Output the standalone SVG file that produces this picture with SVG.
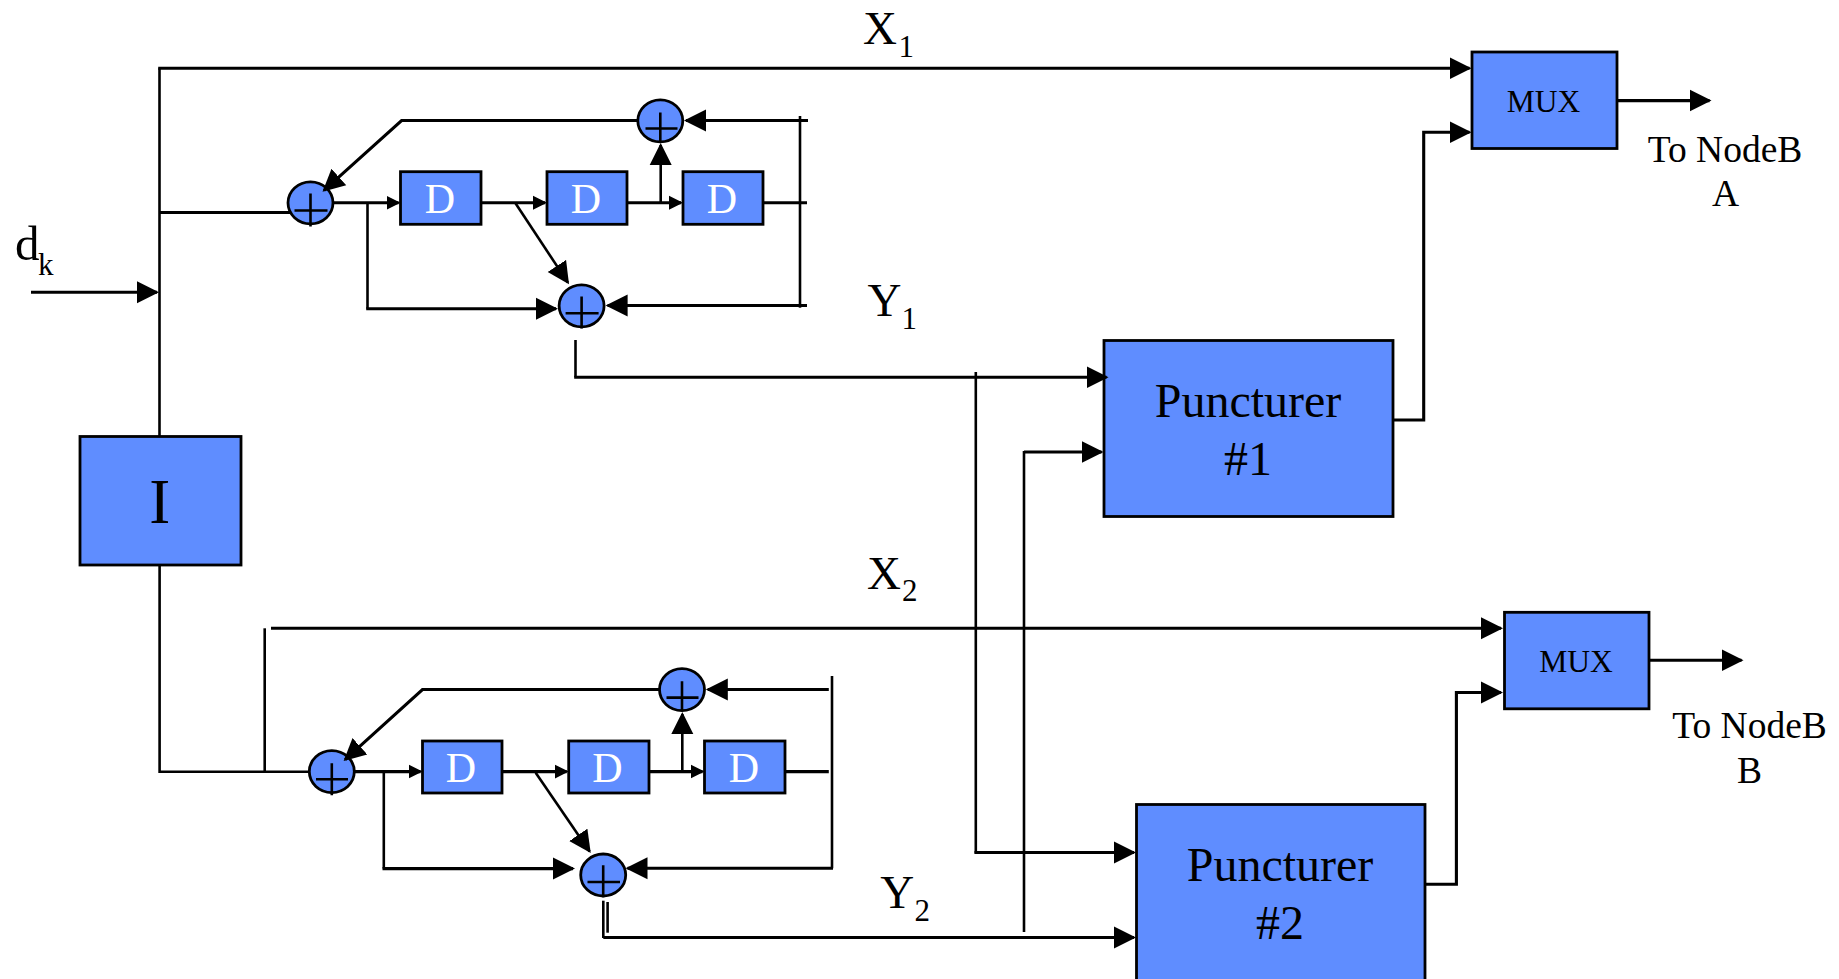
<svg xmlns="http://www.w3.org/2000/svg" width="1839" height="979" viewBox="0 0 1839 979">
<style>
text{font-family:"Liberation Serif","Times New Roman",serif;fill:#000}
.box{fill:#5f8dff;stroke:#000;stroke-width:2.8}
.sum{fill:#5f8dff;stroke:#000;stroke-width:2.8}
.plus{fill:none;stroke:#000;stroke-width:2.6}
.d{font-size:42px;fill:#fff;text-anchor:middle}
.mux{font-size:31.5px;text-anchor:middle}
.p{font-size:48px;text-anchor:middle}
.lbl{font-size:47px}
.sub{font-size:31px}
.to{font-size:37.5px;text-anchor:middle}
#connectors path{fill:none;stroke:#000;stroke-width:3.1;stroke-linejoin:miter}
#connectors path.thin{stroke-width:2.6}
</style>
<defs>
<marker id="big" markerUnits="userSpaceOnUse" markerWidth="24" markerHeight="24" viewBox="0 0 24 24" refX="20" refY="12" orient="auto"><polygon points="0,1 22,12 0,23" fill="#000"/></marker>
<marker id="small" markerUnits="userSpaceOnUse" markerWidth="16" markerHeight="16" viewBox="0 0 16 16" refX="12" refY="8" orient="auto"><polygon points="0,1 14,8 0,15" fill="#000"/></marker>
</defs>
<rect width="1839" height="979" fill="#fff"/>

<g id="node-I"><rect class="box" x="80" y="436.5" width="161" height="128.5"/><text x="159.7" y="522.7" font-size="63" text-anchor="middle">I</text></g>

<g id="sum-1a"><ellipse class="sum" cx="310.5" cy="202.8" rx="22.5" ry="21"/><path class="plus" d="M310.5 193.5V226.5M294.5 210.5H327.5"/></g>
<g id="d-1a"><rect class="box" x="400.5" y="171.7" width="80.5" height="52.6"/><text class="d" x="440" y="213.2">D</text></g>
<g id="d-1b"><rect class="box" x="547" y="171.7" width="80" height="52.6"/><text class="d" x="586" y="213.2">D</text></g>
<g id="d-1c"><rect class="box" x="683" y="171.7" width="80" height="52.6"/><text class="d" x="722" y="213.2">D</text></g>
<g id="sum-1b"><ellipse class="sum" cx="660.3" cy="120.8" rx="22.5" ry="21"/><path class="plus" d="M660.3 112.5V141.5M645.5 128.5H677.5"/></g>
<g id="sum-1c"><ellipse class="sum" cx="581.6" cy="305.8" rx="22.5" ry="21"/><path class="plus" d="M581.6 296.5V328.5M565.6 313.2H598.6"/></g>

<g id="sum-2a"><ellipse class="sum" cx="331.8" cy="771.6" rx="22.5" ry="21"/><path class="plus" d="M331.8 763.3V795.3M316 779.3H348"/></g>
<g id="d-2a"><rect class="box" x="422.5" y="741" width="79.5" height="52"/><text class="d" x="461" y="782">D</text></g>
<g id="d-2b"><rect class="box" x="568.7" y="741" width="80.3" height="52"/><text class="d" x="607.5" y="782">D</text></g>
<g id="d-2c"><rect class="box" x="704.5" y="741" width="80.5" height="52"/><text class="d" x="744" y="782">D</text></g>
<g id="sum-2b"><ellipse class="sum" cx="682" cy="689.6" rx="22.5" ry="21"/><path class="plus" d="M682 681.3V710.3M666.5 697.6H698.5"/></g>
<g id="sum-2c"><ellipse class="sum" cx="603.2" cy="875" rx="22.5" ry="21"/><path class="plus" d="M603.2 865.3V897.3M587.5 882H620"/></g>

<g id="punct-1"><rect class="box" x="1104" y="340.5" width="289" height="176"/><text class="p" x="1248" y="417.4">Puncturer</text><text class="p" x="1248" y="475">#1</text></g>
<g id="punct-2"><rect class="box" x="1136.5" y="804.5" width="288.5" height="182"/><text class="p" x="1280" y="881">Puncturer</text><text class="p" x="1280" y="938.7">#2</text></g>
<g id="mux-1"><rect class="box" x="1472" y="52" width="145" height="96.5"/><text class="mux" x="1543.5" y="111.5">MUX</text></g>
<g id="mux-2"><rect class="box" x="1504.5" y="612.3" width="144.5" height="96.5"/><text class="mux" x="1576" y="671.7">MUX</text></g>

<g id="connectors">
<path class="thin" d="M159.5 436V68.3"/>
<path d="M158.2 68.3H1469.5" marker-end="url(#big)"/>
<path d="M31 292.3H157" marker-end="url(#big)"/>
<path d="M159.5 212.5H290"/>
<path d="M333 202.8H398.5" marker-end="url(#small)"/>
<path d="M481 202.8H545" marker-end="url(#small)"/>
<path d="M627 202.8H681" marker-end="url(#small)"/>
<path d="M763 202.8H807"/>
<path class="thin" d="M660.7 202.8V145" marker-end="url(#big)"/>
<path d="M808 120.5H686" marker-end="url(#big)"/>
<path d="M637 120.5H401.6L324 190.4" marker-end="url(#big)"/>
<path class="thin" d="M800 116V307.7"/>
<path d="M807 305.5H607.6" marker-end="url(#big)"/>
<path class="thin" d="M367.5 202.8V308.7"/>
<path d="M366.2 308.7H556" marker-end="url(#big)"/>
<path class="thin" d="M515 202.5L567.9 282.6" marker-end="url(#big)"/>
<path class="thin" d="M575.5 340V377.3"/>
<path d="M574.2 377.3H1106.5" marker-end="url(#big)"/>
<path d="M1024 452H1101.5" marker-end="url(#big)"/>
<path class="thin" d="M1024 451V932"/>
<path class="thin" d="M975.8 372V853.5"/>
<path d="M974.5 852.5H1134" marker-end="url(#big)"/>
<path d="M603.3 937.5H1134" marker-end="url(#big)"/>
<path class="thin" d="M603.3 900.7V938"/>
<path class="thin" d="M607.6 902V932.7"/>

<path class="thin" d="M159.6 565V771.8H308"/>
<path class="thin" d="M264.7 628.3V771"/>
<path d="M271 628.3H1501" marker-end="url(#big)"/>
<path d="M354 771.6H420.5" marker-end="url(#small)"/>
<path d="M502 771.6H566.7" marker-end="url(#small)"/>
<path d="M649 771.6H702.5" marker-end="url(#small)"/>
<path d="M785 771.6H828.8"/>
<path class="thin" d="M682.3 771.6V714" marker-end="url(#big)"/>
<path d="M828.8 689.5H707.8" marker-end="url(#big)"/>
<path d="M659 689.5H422.5L345.1 759.7" marker-end="url(#big)"/>
<path class="thin" d="M832 676V868.3"/>
<path d="M833 868.3H627.5" marker-end="url(#big)"/>
<path class="thin" d="M383.8 771.6V868.6"/>
<path d="M382.5 868.6H573" marker-end="url(#big)"/>
<path class="thin" d="M535.7 772.7L589.6 851.4" marker-end="url(#big)"/>

<path d="M1393 420H1423.7V132.3H1469.5" marker-end="url(#big)"/>
<path d="M1424.7 884.2H1456.4V692.5H1501" marker-end="url(#big)"/>
<path d="M1617 100.6H1709.5" marker-end="url(#big)"/>
<path d="M1649 660.3H1741.5" marker-end="url(#big)"/>
</g>

<g id="labels">
<text x="15" y="260" font-size="49">d<tspan class="sub" x="38" y="275">k</tspan></text>
<text class="lbl" x="863" y="43.8">X<tspan class="sub" x="898.5" y="56.7">1</tspan></text>
<text class="lbl" x="867.5" y="316">Y<tspan class="sub" x="901.5" y="329">1</tspan></text>
<text class="lbl" x="867" y="589">X<tspan class="sub" x="902" y="601">2</tspan></text>
<text class="lbl" x="880.2" y="907.7">Y<tspan class="sub" x="914.5" y="921">2</tspan></text>
<text class="to" x="1725" y="161.8">To NodeB</text>
<text class="to" x="1725.5" y="205.5">A</text>
<text class="to" x="1749.5" y="738">To NodeB</text>
<text class="to" x="1749.5" y="783">B</text>
</g>
</svg>
